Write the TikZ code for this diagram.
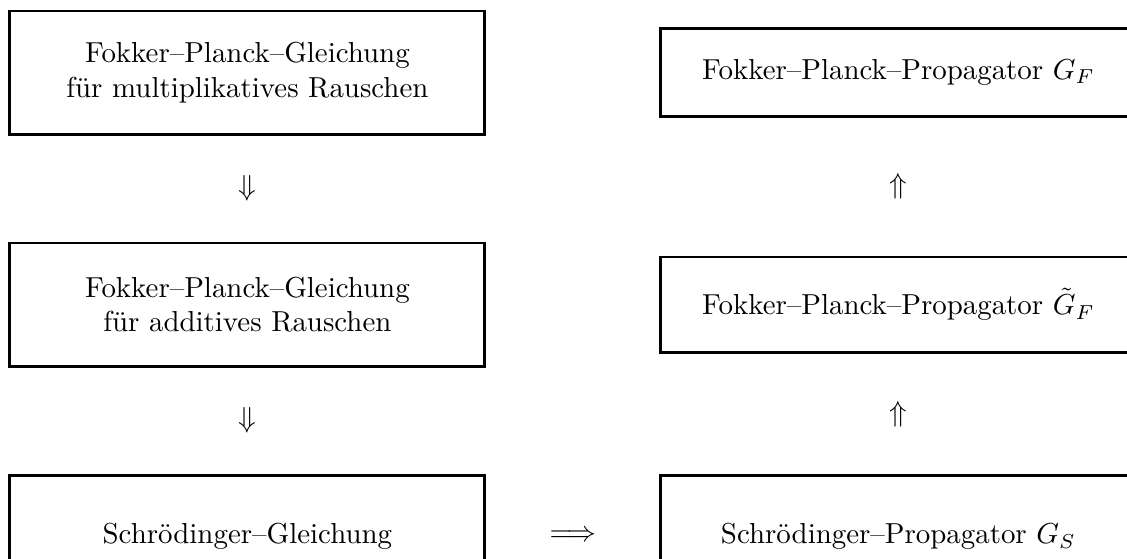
\documentclass[tikz,border=0pt]{standalone}
\usepackage{tikz}
\usetikzlibrary{positioning}

\begin{document}
\begin{tikzpicture}[node distance=80.3pt,
  eqbox/.style={draw,line width=1pt,align=center,minimum width=164.4pt,minimum height=42.6pt}]
  \useasboundingbox (-85.6pt,25.1pt) rectangle (304.4pt,-168pt);
  \clip (-85.6pt,25.1pt) rectangle (304.4pt,-168pt);
  \node[eqbox] (fpm)                {Fokker--Planck--Gleichung\\für multiplikatives Rauschen};
  \node[eqbox] (fpa)  [below of=fpm] {Fokker--Planck--Gleichung\\für additives Rauschen};
  \node[eqbox] (schr) [below of=fpa] {Schrödinger--Gleichung};
  \node[eqbox,minimum height=42.2pt] (gs)  [right of=schr,node distance=225.3pt] {Schrödinger--Propagator $G_S$};
  \node[eqbox,minimum height=32.9pt] (gft) [above of=gs]  {Fokker--Planck--Propagator $\tilde{G}_F$};
  \node[eqbox,minimum height=30.4pt] (gf)  [above of=gft] {Fokker--Planck--Propagator $G_F$};

  \path (fpm)  -- node {$\Downarrow$} (fpa)
        (fpa)  -- node {$\Downarrow$} (schr)
        (schr) -- node {$\Longrightarrow$} (gs)
        (gs)   -- node {$\Uparrow$} (gft)
        (gft)  -- node {$\Uparrow$} (gf);
\end{tikzpicture}
\end{document}
